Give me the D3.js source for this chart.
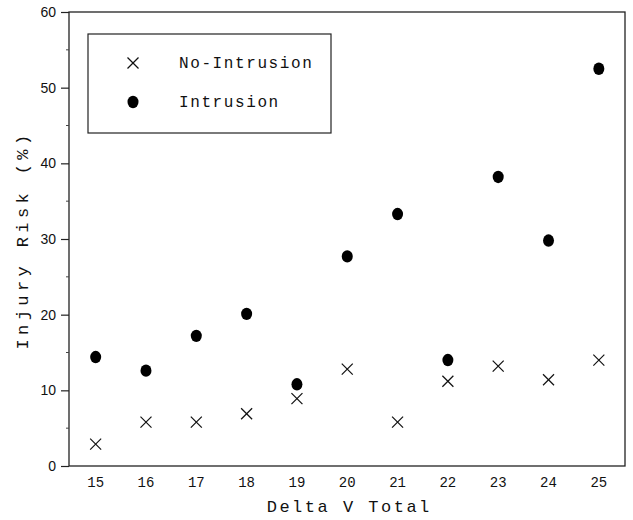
<!DOCTYPE html>
<html>
<head>
<meta charset="utf-8">
<script src="https://cdn.jsdelivr.net/npm/d3@7"></script>
<style>
  body { margin: 0; background: #fff; }
  text { fill: #111; }
</style>
</head>
<body>
<div id="chart"></div>
<script>
// Data
var deltaV = [15, 16, 17, 18, 19, 20, 21, 22, 23, 24, 25];
var noIntrusion = [2.9, 5.8, 5.8, 6.9, 8.9, 12.8, 5.8, 11.2, 13.2, 11.4, 14.0];
var intrusion = [14.4, 12.6, 17.2, 20.1, 10.8, 27.7, 33.3, 14.0, 38.2, 29.8, 52.5];
var yTicks = [0, 10, 20, 30, 40, 50, 60];
var yMinorTicks = [5, 15, 25, 35, 45, 55];

// Setup
var width = 633, height = 520;
var margin = {left: 69, top: 12, right: 8, bottom: 54};
var plot_width = width - margin.left - margin.right;
var plot_height = height - margin.top - margin.bottom;

var svg = d3.select('#chart')
  .append('svg')
  .attr('width', width)
  .attr('height', height);

var x = d3.scaleLinear()
  .domain([14.47, 25.52])
  .range([margin.left, margin.left + plot_width]);

var y = d3.scaleLinear()
  .domain([0, 60])
  .range([margin.top + plot_height, margin.top]);

// Frame
svg.append('rect')
  .attr('x', margin.left)
  .attr('y', margin.top)
  .attr('width', plot_width)
  .attr('height', plot_height)
  .attr('fill', 'none')
  .attr('stroke', '#222')
  .attr('stroke-width', 1.3);

// Y axis ticks
var yAxis = d3.axisLeft(y)
  .tickValues(yTicks)
  .tickSize(8)
  .tickPadding(5);

var gy = svg.append('g')
  .attr('transform', 'translate(' + margin.left + ',0)')
  .call(yAxis);
gy.select('.domain').remove();
gy.selectAll('line').attr('stroke', '#222').attr('stroke-width', 1.2);
gy.selectAll('text')
  .style('font-family', '"Liberation Sans", Arial, sans-serif')
  .style('font-size', '14px')
  .attr('fill', '#111');

svg.append('g')
  .selectAll('line')
  .data(yMinorTicks)
  .enter()
  .append('line')
  .attr('x1', margin.left - 3)
  .attr('x2', margin.left)
  .attr('y1', function(d){ return y(d); })
  .attr('y2', function(d){ return y(d); })
  .attr('stroke', '#444')
  .attr('stroke-width', 1);

// X tick labels (no tick marks)
svg.append('g')
  .selectAll('text')
  .data(deltaV)
  .enter()
  .append('text')
  .attr('x', function(d){ return x(d); })
  .attr('y', margin.top + plot_height + 21)
  .attr('text-anchor', 'middle')
  .style('font-family', '"Liberation Mono", monospace')
  .style('font-size', '14px')
  .text(function(d){ return d; });

// Axis titles
svg.append('text')
  .attr('x', x(20) + 2)
  .attr('y', 512)
  .attr('text-anchor', 'middle')
  .style('font-family', '"Liberation Mono", monospace')
  .style('font-size', '17px')
  .style('letter-spacing', '2.5px')
  .text('Delta V Total');

svg.append('text')
  .attr('transform', 'translate(28,' + 240 + ') rotate(-90)')
  .attr('text-anchor', 'middle')
  .style('font-family', '"Liberation Mono", monospace')
  .style('font-size', '17px')
  .style('letter-spacing', '4.4px')
  .text('Injury Risk (%)');

// Marks
var cross = function(sel, s) {
  sel.append('line').attr('x1', -s).attr('y1', -s).attr('x2', s).attr('y2', s);
  sel.append('line').attr('x1', -s).attr('y1', s).attr('x2', s).attr('y2', -s);
};

svg.append('g')
  .selectAll('g')
  .data(noIntrusion)
  .enter()
  .append('g')
  .attr('transform', function(d,i){ return 'translate(' + x(deltaV[i]) + ',' + y(d) + ')'; })
  .attr('stroke', '#111')
  .attr('stroke-width', 1.2)
  .each(function(){ cross(d3.select(this), 5.5); });

svg.append('g')
  .selectAll('ellipse')
  .data(intrusion)
  .enter()
  .append('ellipse')
  .attr('cx', function(d,i){ return x(deltaV[i]); })
  .attr('cy', function(d){ return y(d); })
  .attr('rx', 5.5)
  .attr('ry', 6.2)
  .attr('fill', '#000');

// Legend
var legend = svg.append('g');
legend.append('rect')
  .attr('x', 88)
  .attr('y', 34)
  .attr('width', 243)
  .attr('height', 99)
  .attr('fill', '#fff')
  .attr('stroke', '#222')
  .attr('stroke-width', 1.2);

var lg1 = legend.append('g')
  .attr('transform', 'translate(133,63)')
  .attr('stroke', '#111')
  .attr('stroke-width', 1.2);
cross(lg1, 5.5);

legend.append('ellipse')
  .attr('cx', 133)
  .attr('cy', 102)
  .attr('rx', 5.5)
  .attr('ry', 6.2)
  .attr('fill', '#000');

legend.selectAll('.legend-label')
  .data(['No-Intrusion', 'Intrusion'])
  .enter()
  .append('text')
  .attr('class', 'legend-label')
  .attr('x', 179)
  .attr('y', function(d,i){ return 68 + i*39; })
  .style('font-family', '"Liberation Mono", monospace')
  .style('font-size', '16px')
  .style('letter-spacing', '1.6px')
  .text(function(d){ return d; });
</script>
</body>
</html>
